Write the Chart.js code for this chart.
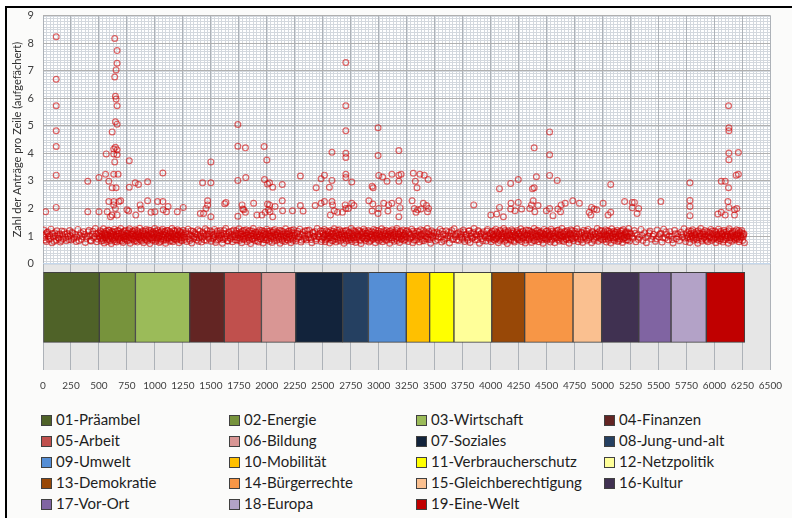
<!DOCTYPE html>
<html>
<head>
<meta charset="utf-8">
<script src="https://cdn.jsdelivr.net/npm/chart.js@4"></script>
<style>
  html, body { margin: 0; padding: 0; background: #ffffff; }
  body { width: 792px; height: 518px; position: relative; overflow: hidden; font-family: Lato, "Open Sans", sans-serif; }
  #rahmen { position: absolute; left: 5px; top: 6px; width: 800px; height: 520px; border: 2px solid #000; background: #fbfbfa; }
  #grafico { position: absolute; left: 0; top: 0; }
  #legende { position: absolute; left: 0; top: 409px; width: 792px; }
  .item { position: absolute; font-size: 15px; color: #1e1e1e; white-space: nowrap; line-height: 21px; }
  .item i { display: inline-block; width: 9px; height: 9px; border: 1px solid #404040; margin-right: 4px; vertical-align: -1px; }
</style>
</head>
<body>
<div id="rahmen"></div>
<canvas id="grafico" width="792" height="402"></canvas>
<div id="legende"></div>
<script>
// Kapitel (Kategorien) und ihre Zeilenbereiche
const KAPITEL = ['01-Präambel', '02-Energie', '03-Wirtschaft', '04-Finanzen', '05-Arbeit', '06-Bildung',
    '07-Soziales', '08-Jung-und-alt', '09-Umwelt', '10-Mobilität', '11-Verbraucherschutz', '12-Netzpolitik',
    '13-Demokratie', '14-Bürgerrechte', '15-Gleichberechtigung', '16-Kultur', '17-Vor-Ort', '18-Europa', '19-Eine-Welt'];
const KAPITEL_START = [0, 503, 826, 1311, 1620, 1952, 2258, 2678, 2908, 3246, 3455, 3672, 4010, 4304, 4736, 4992, 5324, 5612, 5927];
const KAPITEL_ENDE = [503, 826, 1311, 1620, 1952, 2258, 2678, 2908, 3246, 3455, 3672, 4010, 4304, 4736, 4992, 5324, 5612, 5927, 6271];

const FARBEN = ['#4f6228', '#77933c', '#9bbb59', '#632523', '#c0504d', '#d99694', '#12233b', '#254061', '#558ed5',
    '#ffc000', '#ffff00', '#ffff99', '#984807', '#f79646', '#fac090', '#403151', '#8064a2', '#b3a2c7', '#c00000'];

// Zeilen mit mehr als einem Antrag (Zeile, Anzahl)
const AUSREISSER = [
    [24,1.88],[118,8.23],[118,6.69],[118,5.73],[118,4.82],[118,4.25],[118,3.21],[118,2.04],[400,2.99],[400,1.88],
    [500,3.12],[500,1.88],[565,3.98],[559,3.24],[588,2.99],[618,4.78],[632,3.98],[641,8.17],[662,7.73],[662,7.27],
    [653,7.03],[641,6.77],[647,6.07],[653,5.97],[662,5.73],[647,5.15],[662,5.06],[632,4.16],[647,4.22],[662,4.13],
    [662,3.95],[641,3.69],[632,3.24],[671,3.24],[618,2.75],[653,2.75],[588,2.25],[632,2.25],[679,2.25],[694,2.28],
    [574,1.88],[618,1.76],[647,2.0],[632,2.13],[662,1.76],[603,1.7],[771,3.73],[771,2.77],[750,1.95],[765,1.91],
    [824,2.93],[853,2.87],[868,2.13],[876,1.98],[829,1.76],[935,2.97],[935,2.28],[965,1.86],[1000,1.88],[1024,2.25],
    [1071,3.29],[1071,2.25],[1074,1.95],[1103,1.88],[1118,2.07],[1200,1.88],[1253,2.04],[1426,2.93],[1406,1.82],[1435,1.82],
    [1456,2.0],[1471,2.28],[1471,2.13],[1500,3.69],[1500,2.93],[1500,1.7],[1624,2.17],[1635,2.22],[1741,5.05],[1741,4.26],
    [1741,3.02],[1741,1.72],[1809,4.2],[1812,3.12],[1785,1.98],[1794,1.95],[1809,1.86],[1779,2.13],[1882,2.19],[1912,1.76],
    [1956,1.76],[1976,4.25],[2000,3.76],[1979,3.05],[2006,2.89],[2024,2.93],[2053,2.77],[2006,2.16],[2024,2.13],[1985,1.86],
    [2015,1.95],[2029,1.88],[2053,1.7],[2074,2.07],[2138,2.87],[2138,2.28],[2141,1.92],[2229,1.92],[2300,3.18],[2300,2.11],
    [2324,1.91],[2441,2.75],[2432,2.11],[2485,3.08],[2515,3.21],[2485,2.19],[2515,2.25],[2559,2.77],[2582,4.04],[2582,3.02],
    [2582,2.25],[2588,2.13],[2568,1.76],[2603,1.92],[2632,1.86],[2676,1.86],[2706,7.3],[2706,5.73],[2706,4.82],[2706,4.0],
    [2706,3.85],[2706,3.24],[2706,3.12],[2700,2.13],[2706,2.0],[2729,2.0],[2759,2.96],[2759,2.19],[2779,2.11],[2912,2.28],
    [2941,2.81],[2950,2.75],[2947,2.16],[2941,1.91],[2994,4.93],[2994,3.92],[3000,3.2],[3000,2.0],[2994,1.82],[3035,3.14],
    [3044,2.19],[3074,2.99],[3088,2.13],[3118,3.24],[3118,2.19],[3082,1.91],[3180,4.1],[3180,3.21],[3200,3.24],[3180,2.99],
    [3180,2.28],[3191,2.03],[3180,1.7],[3309,3.28],[3327,2.99],[3342,2.75],[3368,3.24],[3407,3.21],[3442,3.05],[3298,2.28],
    [3318,2.0],[3348,1.95],[3333,1.86],[3398,2.19],[3427,2.11],[3436,1.88],[3445,2.0],[3377,1.98],[3849,2.13],[4002,1.76],
    [4055,1.8],[4079,2.72],[4079,2.04],[4114,1.7],[4179,2.91],[4182,2.19],[4179,1.98],[4218,1.92],[4247,3.05],[4247,2.22],
    [4277,1.98],[4350,2.0],[4365,2.13],[4380,2.28],[4389,4.2],[4409,3.15],[4389,2.75],[4374,2.72],[4395,1.88],[4424,2.11],
    [4527,4.78],[4527,3.95],[4527,3.2],[4595,3.02],[4527,2.0],[4557,1.74],[4498,1.92],[4601,1.98],[4625,1.88],[4630,2.13],
    [4666,2.19],[4734,2.28],[4793,2.19],[4881,1.86],[4902,2.04],[4925,1.98],[4949,1.95],[4896,1.76],[5005,2.19],[5049,1.76],
    [5073,2.87],[5073,1.86],[5197,2.25],[5265,2.22],[5285,2.22],[5265,2.03],[5323,2.0],[5309,1.82],[5521,2.25],[5781,2.93],
    [5781,2.29],[5781,2.07],[5781,1.74],[6126,5.73],[6129,4.93],[6129,4.82],[6129,4.01],[6129,3.77],[6214,4.03],[6061,2.99],
    [6096,2.99],[6126,2.75],[6194,3.21],[6214,3.24],[6120,2.25],[6129,2.04],[6179,1.95],[6200,2.0],[6031,1.8],[6061,1.86],
    [6096,1.76],[6179,1.76]
];

// Zeilen mit genau einem Antrag (aufgefaechert um 1), erster Teil
const EINZELNE = [
    [8,1.22],[15,0.95],[22,1.08],[30,0.8],[41,1.15],[52,0.88],[60,1.02],[71,1.25],[80,0.76],[92,0.97],[104,1.12],[118,0.85],
    [130,1.05],[142,0.92],[155,0.78],[168,1.18],[180,0.9],[196,1.07],[210,0.83],[224,0.98],[238,1.2],
    [252,0.86],[266,1.1],[280,0.95],[297,0.8],[312,1.24],[330,1.03],[344,0.88],[362,1.16],[378,0.77],[395,0.99],[410,1.21],
    [424,0.84],[438,1.06],[452,0.93],[468,1.27],[480,0.79],[494,1.12],
    [505,0.97],[512,1.19],[519,0.82],[526,1.05],[533,0.9],[540,1.26],[547,0.75],[554,1.1],[561,0.94],[568,1.02],[575,0.8],
    [582,1.22],[589,0.88],[596,1.13],[603,0.99],[610,0.73],[617,1.17],[624,1.06],[631,0.86],[638,1.25],[645,0.93],[652,1.01],
    [659,0.78],[666,1.2],[673,0.91],[680,1.09],[687,0.84],[694,1.27],[701,0.96],[708,1.14],[715,0.77],[722,1.03],[729,0.89],
    [736,1.21],[743,0.98],
    [752,0.83],[759,1.11],[766,0.95],[773,1.26],[780,0.74],[787,1.07],[794,0.9],[801,1.18],[808,1.0],[815,0.81],[822,1.23],
    [829,0.92],[836,1.05],[843,0.78],[850,1.15],[857,0.97],[864,1.28],[871,0.86],[878,1.04],[885,0.93],[892,1.19],[899,0.76],
    [906,1.1],[913,0.88],[920,1.24],[927,1.01],[934,0.82],[941,1.13],[948,0.95],[955,0.73],[962,1.2],[969,1.06],[976,0.87],
    [983,1.16],[990,0.94],
    [998,1.27],[1005,0.8],[1012,1.08],[1019,0.91],[1026,1.22],[1033,0.99],[1040,0.77],[1047,1.14],[1054,0.89],[1061,1.03],
    [1068,1.25],[1075,0.84],[1082,0.96],[1089,1.17],[1096,0.74],[1103,1.09],[1110,0.92],[1117,1.2],[1124,1.0],[1131,0.81],
    [1138,1.12],[1145,0.94],[1152,1.27],[1159,0.79],[1166,1.06],[1173,0.9],[1180,1.18],[1187,0.98],[1194,0.85],[1201,1.23],
    [1208,1.04],[1215,0.76],[1222,1.15],[1229,0.93],[1236,1.08],[1243,0.83],
    [1252,1.21],[1263,0.95],[1274,1.1],[1285,0.8],[1296,1.25],[1307,0.9],[1318,1.03],[1329,0.75],[1340,1.17],[1351,0.97],
    [1362,1.08],[1373,0.86],[1384,1.23],[1395,0.93],[1406,1.05],[1417,0.78],[1428,1.14],[1439,0.99],[1450,1.26],[1461,0.84],
    [1472,1.07],[1483,0.91],[1494,1.19],
    [1503,0.81],[1513,1.02],[1523,0.94],[1533,1.24],[1543,0.77],[1553,1.12],[1563,0.88],[1573,1.05],[1583,1.2],[1593,0.96],
    [1603,0.74],[1613,1.09],[1623,0.9],[1633,1.27],[1643,1.0],[1653,0.82],[1663,1.16],[1673,0.93],[1683,1.06],[1693,0.79],
    [1703,1.22],[1713,0.97],[1723,1.11],[1733,0.85],[1743,1.03],
    [1751,1.26],[1759,0.92],[1767,1.08],[1775,0.76],[1783,1.18],[1791,0.99],[1799,0.87],[1807,1.13],[1815,1.23],[1823,0.8],
    [1831,1.04],[1839,0.94],[1847,1.2],[1855,0.73],[1863,1.1],[1871,0.9],[1879,1.27],[1887,1.01],[1895,0.83],[1903,1.15],
    [1911,0.96],[1919,1.07],[1927,0.78],[1935,1.22],[1943,0.89],[1951,1.12],[1959,0.98],[1967,0.75],[1975,1.17],[1983,1.05],
    [1991,0.86],
    [1999,1.25],[2007,0.93],[2015,1.09],[2023,0.81],[2031,1.19],[2039,1.0],[2047,0.77],[2055,1.14],[2063,0.91],[2071,1.24],
    [2079,1.03],[2087,0.84],[2095,1.11],[2103,0.96],[2111,1.21],[2119,0.74],[2127,1.06],[2135,0.88],[2143,1.16],[2151,0.99],
    [2159,0.8],[2167,1.26],[2175,0.94],[2183,1.08],[2191,0.85],[2199,1.18],[2207,1.02],[2215,0.76],[2223,1.13],[2231,0.92],
    [2239,1.23],[2247,0.97],
    [2258,0.82],[2270,1.1],[2282,0.95],[2294,1.25],[2306,0.78],[2318,1.04],[2330,0.9],[2342,1.19],[2354,0.86],[2366,1.07],
    [2378,1.22],[2390,0.93],[2402,0.76],[2414,1.14],[2426,1.0],[2438,0.83],[2450,1.27],[2462,0.97],[2474,1.09],[2486,0.8],
    [2498,1.17],
    [2506,0.94],[2514,1.24],[2522,0.79],[2530,1.06],[2538,0.9],[2546,1.15],[2554,1.01],[2562,0.75],[2570,1.2],[2578,0.95],
    [2586,1.1],[2594,0.84],[2602,1.26],[2610,0.98],[2618,0.78],[2626,1.13],[2634,0.91],[2642,1.04],[2650,1.23],[2658,0.82],
    [2666,1.08],[2674,0.96],[2682,1.18],[2690,0.74],[2698,1.03],[2706,0.89],[2714,1.21],[2722,1.0],[2730,0.85],[2738,1.12],
    [2746,0.93],
    [2754,1.27],[2762,0.8],[2770,1.05],[2778,0.92],[2786,1.17],[2794,0.77],[2802,1.09],[2810,0.98],[2818,1.22],[2826,0.86],
    [2834,1.02],[2842,0.73],[2850,1.14],[2858,0.94],[2866,1.25],[2874,1.0],[2882,0.83],[2890,1.11],[2898,0.9],[2906,1.2],
    [2914,0.78],[2922,1.06],[2930,0.95],[2938,1.16],[2946,0.87],[2954,1.24],[2962,1.01],[2970,0.76],[2978,1.1],[2986,0.93],
    [2994,1.19],
    [3002,0.82],[3010,1.04],[3018,0.97],[3026,1.26],[3034,0.79],[3042,1.13],[3050,0.91],[3058,1.07],[3066,1.21],[3074,0.85],
    [3082,0.99],[3090,1.16],[3098,0.74],[3106,1.09],[3114,0.94],[3122,1.23],[3130,1.02],[3138,0.81],[3146,1.14],[3154,0.9],
    [3162,1.27],[3170,0.96],[3178,1.06],[3186,0.77],[3194,1.18],[3202,0.88],[3210,1.03],[3218,1.22],[3226,0.84],[3234,1.1],
    [3242,0.97],
    [3254,1.2],[3264,0.8],[3274,1.07],[3284,0.93],[3294,1.25],[3304,0.76],[3314,1.12],[3324,0.99],[3334,0.86],[3344,1.17],
    [3354,1.03],[3364,0.78],[3374,1.23],[3384,0.91],[3394,1.08],[3404,0.83],[3414,1.15],[3424,0.97],[3434,1.27],[3444,0.88],
    [3454,1.05],[3464,0.74],[3474,1.19],[3484,0.95],[3494,1.1],
    [3506,0.82],[3520,1.14],[3534,0.96],[3548,1.24],[3562,0.78],[3576,1.06],[3590,0.9],[3604,1.19],[3618,1.01],[3632,0.75],
    [3646,1.12],[3660,0.87],[3674,1.26],[3688,0.98],[3702,1.08],[3716,0.84],[3730,1.16],[3744,0.93],
    [3756,1.22],[3768,0.8],[3780,1.04],[3792,0.92],[3804,1.18],[3816,0.77],[3828,1.1],[3840,0.95],[3852,1.27],[3864,0.86],
    [3876,1.02],[3888,1.2],[3900,0.74],[3912,1.07],[3924,0.9],[3936,1.15],[3948,0.99],[3960,0.82],[3972,1.24],[3984,0.94],
    [3996,1.09],
    [4005,0.79],[4013,1.17],[4021,0.97],[4029,1.06],[4037,0.85],[4045,1.25],[4053,0.92],[4061,1.11],[4069,0.76],[4077,1.02],
    [4085,1.21],[4093,0.88],[4101,1.08],[4109,0.95],[4117,1.27],[4125,0.81],[4133,1.14],[4141,1.0],[4149,0.73],[4157,1.19],
    [4165,0.9],[4173,1.05],[4181,0.84],[4189,1.23],[4197,0.96],[4205,1.12],[4213,0.78],[4221,1.03],[4229,0.93],[4237,1.2],
    [4245,0.87],
    [4253,1.09],[4261,0.98],[4269,1.26],[4277,0.8],[4285,1.15],[4293,0.91],[4301,1.04],[4309,0.75],[4317,1.22],[4325,0.95],
    [4333,1.1],[4341,0.86],[4349,1.18],[4357,1.01],[4365,0.77],[4373,1.13],[4381,0.92],[4389,1.27],[4397,0.83],[4405,1.06],
    [4413,0.97],[4421,1.21],[4429,0.79],[4437,1.11],[4445,0.9],[4453,1.16],[4461,1.0],[4469,0.74],[4477,1.24],[4485,0.94],
    [4493,1.07],
    [4501,0.85],[4509,1.19],[4517,0.96],[4525,1.03],[4533,0.78],[4541,1.25],[4549,0.89],[4557,1.12],[4565,0.99],[4573,0.76],
    [4581,1.16],[4589,0.93],[4597,1.07],[4605,1.22],[4613,0.82],[4621,1.01],[4629,0.91],[4637,1.27],[4645,0.97],[4653,0.8],
    [4661,1.14],[4669,1.05],[4677,0.87],[4685,1.2],[4693,0.94],[4701,0.74],[4709,1.09],[4717,1.23],[4725,0.9],[4733,1.04],
    [4741,0.83],
    [4752,1.17],[4762,0.95],[4772,1.26],[4782,0.79],[4792,1.06],[4802,0.9],[4812,1.13],[4822,0.77],[4832,1.21],[4842,0.98],
    [4852,1.08],[4862,0.84],[4872,1.24],[4882,0.93],[4892,1.02],[4902,0.76],[4912,1.15],[4922,0.89],[4932,1.1],[4942,0.97],
    [4952,1.27],[4962,0.81],[4972,1.05],[4982,0.92],[4992,1.19],
    [5002,0.86],[5010,1.11],[5018,0.98],[5026,1.23],[5034,0.78],[5042,1.04],[5050,0.91],[5058,1.17],[5066,1.0],[5074,0.75],
    [5082,1.26],[5090,0.94],[5098,1.08],[5106,0.83],[5114,1.14],[5122,0.96],[5130,1.21],[5138,0.8],[5146,1.06],[5154,0.9],
    [5162,1.18],[5170,1.02],[5178,0.77],[5186,1.24],[5194,0.93],[5202,1.1],[5210,0.85],[5218,1.15],[5226,0.99],[5234,1.27],
    [5242,0.82],
    [5256,1.07],[5270,0.92],[5284,1.2],[5298,0.79],[5312,1.04],[5328,0.95],[5344,1.24],[5360,0.84],[5376,1.12],[5392,0.76],
    [5408,1.0],[5424,1.18],[5440,0.89],[5456,1.06],[5472,0.81],[5488,1.22],
    [5504,0.97],[5518,1.1],[5532,0.78],[5546,1.25],[5560,0.92],[5574,1.05],[5588,0.86],[5602,1.16],[5616,0.99],[5630,0.75],
    [5644,1.21],[5658,0.9],[5672,1.08],[5686,0.83],[5700,1.14],[5714,0.96],[5728,1.26],[5742,0.8],
    [5752,1.03],[5761,0.93],[5770,1.19],[5779,0.77],[5788,1.09],[5797,0.98],[5806,1.23],[5815,0.85],[5824,1.05],[5833,0.91],
    [5842,1.16],[5851,0.74],[5860,1.11],[5869,1.0],[5878,1.27],[5887,0.82],[5896,1.07],[5905,0.94],[5914,1.2],[5923,0.88],
    [5932,1.02],[5941,0.79],[5950,1.14],[5959,0.96],[5968,1.24],[5977,0.84],[5986,1.08],[5995,0.92],
    [6004,1.18],[6012,0.76],[6020,1.04],[6028,0.97],[6036,1.25],[6044,0.83],[6052,1.12],[6060,0.9],[6068,1.06],[6076,0.78],
    [6084,1.21],[6092,0.99],[6100,0.87],[6108,1.15],[6116,1.01],[6124,0.74],[6132,1.26],[6140,0.94],[6148,1.09],[6156,0.81],
    [6164,1.17],[6172,0.96],[6180,1.03],[6188,0.86],[6196,1.23],[6204,0.91],[6212,1.1],[6220,0.79],[6228,1.14],[6236,0.98],
    [6244,1.2],[6252,0.84],[6260,1.05],[6268,0.76]
];

// zweiter Teil der Einzelzeilen
const EINZELNE_B = [
    [4,1.02],[19,0.86],[35,1.13],[47,0.99],[66,0.9],[86,1.1],[98,0.81],[111,1.0],[124,1.19],[137,0.93],[149,1.07],[162,0.84],
    [174,1.04],[188,1.16],[203,0.95],[217,1.09],[231,0.87],[245,1.01],
    [259,1.14],[273,0.9],[289,1.05],[305,0.96],[321,0.83],[338,1.12],[353,0.98],[370,1.06],[386,0.91],[403,1.15],[417,1.0],
    [431,0.82],[445,1.17],[460,0.98],[474,1.08],[487,0.89],[499,1.02],
    [508,1.08],[516,0.93],[523,1.15],[530,1.0],[537,0.84],[544,1.12],[551,0.96],[558,1.04],[565,1.18],[572,0.87],[579,1.06],
    [586,0.95],[593,1.21],[600,0.83],[607,1.1],[614,0.98],[621,0.91],[628,1.14],[635,1.03],[642,0.8],[649,1.16],[656,0.97],
    [663,1.07],[670,0.86],[677,1.19],[684,1.0],[691,0.92],[698,1.11],[705,0.82],[712,1.05],[719,0.95],[726,1.17],[733,1.01],
    [740,0.88],[748,1.1],
    [755,0.97],[762,1.2],[770,0.85],[777,1.03],[784,0.94],[791,1.13],[798,1.06],[805,0.87],[812,1.16],[819,0.99],[826,1.09],
    [833,0.83],[840,1.2],[847,0.96],[854,1.05],[861,0.9],[868,1.12],[875,1.0],[882,0.82],[889,1.15],[896,0.98],[903,1.06],
    [910,0.93],[917,1.18],[924,0.86],[931,1.04],[938,0.97],[945,1.22],[952,0.9],[959,1.08],[966,0.94],[973,1.13],[980,0.84],
    [987,1.02],[994,1.1],
    [1002,0.95],[1009,1.17],[1016,0.85],[1023,1.04],[1030,0.93],[1037,1.12],[1044,1.0],[1051,0.81],[1058,1.19],[1065,0.97],
    [1072,1.07],[1079,0.89],[1086,1.14],[1093,1.02],[1100,0.86],[1107,1.21],[1114,0.96],[1121,1.06],[1128,0.91],[1135,1.16],
    [1142,0.99],[1149,0.84],[1156,1.1],[1163,0.95],[1170,1.2],[1177,1.03],[1184,0.88],[1191,1.12],[1198,0.97],[1205,1.05],
    [1212,0.9],[1219,1.18],[1226,1.0],[1233,0.85],[1240,1.13],[1247,0.96],
    [1257,1.04],[1268,0.88],[1279,1.16],[1290,0.97],[1301,1.08],[1312,0.84],[1323,1.19],[1334,1.01],[1345,0.9],[1356,1.13],
    [1367,0.95],[1378,1.06],[1389,0.81],[1400,1.17],[1411,0.99],[1422,0.92],[1433,1.1],[1444,0.86],[1455,1.03],[1466,1.2],
    [1477,0.96],[1488,1.07],
    [1508,1.15],[1518,0.9],[1528,1.06],[1538,0.98],[1548,0.85],[1558,1.18],[1568,1.0],[1578,0.92],[1588,1.11],[1598,1.03],
    [1608,0.87],[1618,1.2],[1628,0.95],[1638,1.08],[1648,0.83],[1658,1.13],[1668,1.02],[1678,0.9],[1688,1.17],[1698,0.97],
    [1708,1.05],[1718,0.86],[1728,1.19],[1738,0.94],[1747,1.09],
    [1755,0.84],[1763,1.14],[1771,0.98],[1779,1.06],[1787,0.89],[1795,1.21],[1803,1.0],[1811,0.92],[1819,1.1],[1827,0.96],
    [1835,1.16],[1843,0.85],[1851,1.04],[1859,0.99],[1867,1.18],[1875,0.88],[1883,1.07],[1891,0.94],[1899,1.13],[1907,1.02],
    [1915,0.82],[1923,1.15],[1931,0.97],[1939,1.05],[1947,0.9],[1955,1.2],[1963,1.01],[1971,0.87],[1979,1.11],[1987,0.95],
    [1995,1.07],
    [2003,0.86],[2011,1.17],[2019,0.99],[2027,1.04],[2035,0.91],[2043,1.13],[2051,0.97],[2059,1.2],[2067,0.84],[2075,1.06],
    [2083,0.95],[2091,1.15],[2099,1.0],[2107,0.88],[2115,1.1],[2123,0.98],[2131,1.19],[2139,0.83],[2147,1.05],[2155,0.93],
    [2163,1.12],[2171,1.01],[2179,0.87],[2187,1.16],[2195,0.96],[2203,1.08],[2211,0.9],[2219,1.21],[2227,1.0],[2235,0.85],
    [2243,1.11],
    [2252,1.03],[2264,0.9],[2276,1.17],[2288,0.97],[2300,1.07],[2312,0.85],[2324,1.14],[2336,1.0],[2348,0.92],[2360,1.2],
    [2372,0.95],[2384,1.05],[2396,0.87],[2408,1.12],[2420,0.98],[2432,1.16],[2444,0.9],[2456,1.04],[2468,0.96],[2480,1.19],
    [2492,0.88],
    [2502,1.1],[2510,0.97],[2518,1.04],[2526,0.86],[2534,1.19],[2542,1.0],[2550,0.92],[2558,1.13],[2566,0.95],[2574,1.07],
    [2582,0.83],[2590,1.17],[2598,1.01],[2606,0.9],[2614,1.12],[2622,0.98],[2630,1.21],[2638,0.85],[2646,1.06],[2654,0.94],
    [2662,1.15],[2670,1.03],[2678,0.88],[2686,1.1],[2694,0.96],[2702,1.18],[2710,0.82],[2718,1.05],[2726,0.93],[2734,1.14],
    [2742,1.0],[2750,0.87],
    [2758,1.11],[2766,0.95],[2774,1.2],[2782,1.02],[2790,0.86],[2798,1.14],[2806,0.93],[2814,1.06],[2822,0.99],[2830,1.17],
    [2838,0.84],[2846,1.08],[2854,0.96],[2862,1.12],[2870,0.89],[2878,1.19],[2886,1.01],[2894,0.92],[2902,1.1],[2910,0.97],
    [2918,1.15],[2926,0.83],[2934,1.05],[2942,1.0],[2950,0.9],[2958,1.13],[2966,0.95],[2974,1.21],[2982,1.04],[2990,0.87],
    [2998,1.09],
    [3006,0.96],[3014,1.16],[3022,0.88],[3030,1.03],[3038,0.94],[3046,1.19],[3054,1.0],[3062,0.85],[3070,1.11],[3078,0.97],
    [3086,1.06],[3094,0.91],[3102,1.18],[3110,1.02],[3118,0.86],[3126,1.13],[3134,0.95],[3142,1.07],[3150,0.99],[3158,1.2],
    [3166,0.84],[3174,1.09],[3182,0.93],[3190,1.15],[3198,1.01],[3206,0.89],[3214,1.12],[3222,0.96],[3230,1.05],[3238,0.87],
    [3246,1.17],
    [3259,0.95],[3269,1.13],[3279,0.89],[3289,1.05],[3299,0.97],[3309,1.18],[3319,0.85],[3329,1.09],[3339,1.0],[3349,0.92],
    [3359,1.15],[3369,0.98],[3379,1.06],[3389,0.84],[3399,1.2],[3409,1.01],[3419,0.9],[3429,1.11],[3439,0.96],[3449,1.16],
    [3459,0.87],[3469,1.04],[3479,0.99],[3489,1.13],
    [3513,1.0],[3527,0.87],[3541,1.1],[3555,0.96],[3569,1.17],[3583,0.84],[3597,1.05],[3611,0.93],[3625,1.14],[3639,0.99],
    [3653,1.2],[3667,0.9],[3681,1.04],[3695,0.86],[3709,1.12],[3723,0.97],[3737,1.06],[3750,0.88],[3762,1.15],[3774,0.96],
    [3786,1.08],[3798,0.85],[3810,1.19],[3822,1.0],[3834,0.91],[3846,1.13],[3858,0.97],[3870,1.06],[3882,0.87],[3894,1.16],
    [3906,0.98],[3918,1.1],[3930,0.83],[3942,1.04],[3954,0.95],[3966,1.18],[3978,1.01],[3990,0.89],
    [4001,1.12],[4009,0.94],[4017,1.04],[4025,0.88],[4033,1.19],[4041,1.0],[4049,0.91],[4057,1.14],[4065,0.97],[4073,1.07],
    [4081,0.84],[4089,1.16],[4097,1.01],[4105,0.9],[4113,1.1],[4121,0.96],[4129,1.2],[4137,0.86],[4145,1.05],[4153,0.94],
    [4161,1.13],[4169,1.02],[4177,0.87],[4185,1.11],[4193,0.97],[4201,1.17],[4209,0.83],[4217,1.06],[4225,0.99],[4233,1.14],
    [4241,0.91],[4249,1.08],
    [4257,0.86],[4265,1.13],[4273,1.01],[4281,0.93],[4289,1.18],[4297,0.97],[4305,1.09],[4313,0.85],[4321,1.05],[4329,1.0],
    [4337,1.21],[4345,0.9],[4353,1.07],[4361,0.95],[4369,1.15],[4377,1.03],[4385,0.84],[4393,1.11],[4401,0.98],[4409,1.19],
    [4417,0.88],[4425,1.04],[4433,0.96],[4441,1.14],[4449,1.01],[4457,0.86],[4465,1.1],[4473,0.94],[4481,1.06],[4489,0.89],
    [4497,1.17],
    [4505,1.02],[4513,0.9],[4521,1.12],[4529,0.97],[4537,1.06],[4545,0.85],[4553,1.18],[4561,1.0],[4569,0.92],[4577,1.1],
    [4585,0.96],[4593,1.2],[4601,0.87],[4609,1.04],[4617,0.95],[4625,1.14],[4633,1.02],[4641,0.84],[4649,1.09],[4657,0.98],
    [4665,1.17],[4673,0.9],[4681,1.05],[4689,1.0],[4697,1.13],[4705,0.86],[4713,1.07],[4721,0.96],[4729,1.19],[4737,0.92],
    [4745,1.1],
    [4757,0.98],[4767,1.08],[4777,0.9],[4787,1.15],[4797,1.0],[4807,0.86],[4817,1.12],[4827,0.95],[4837,1.05],[4847,0.92],
    [4857,1.18],[4867,1.01],[4877,0.87],[4887,1.1],[4897,0.97],[4907,1.16],[4917,1.03],[4927,0.84],[4937,1.07],[4947,0.94],
    [4957,1.13],[4967,0.99],[4977,1.2],[4987,0.88],[4997,1.05],
    [5006,0.97],[5014,1.16],[5022,0.9],[5030,1.06],[5038,0.99],[5046,1.19],[5054,0.85],[5062,1.1],[5070,0.95],[5078,1.13],
    [5086,1.02],[5094,0.87],[5102,1.17],[5110,0.96],[5118,1.07],[5126,0.91],[5134,1.14],[5142,1.0],[5150,0.84],[5158,1.11],
    [5166,0.97],[5174,1.2],[5182,0.89],[5190,1.05],[5198,0.95],[5206,1.15],[5214,1.01],[5222,0.86],[5230,1.09],[5238,0.96],
    [5246,1.12],
    [5263,0.98],[5291,1.1],[5320,0.88],[5352,1.03],[5384,0.95],[5416,1.12],[5448,0.99],[5480,0.9],[5511,1.06],[5539,0.94],
    [5567,1.15],[5595,1.0],[5623,0.87],[5651,1.08],[5679,0.97],[5707,1.04],[5735,0.92],
    [5756,1.13],[5765,0.98],[5774,1.06],[5783,0.9],[5792,1.17],[5801,1.0],[5810,0.93],[5819,1.12],[5828,0.97],[5837,1.05],
    [5846,0.86],[5855,1.19],[5864,0.95],[5873,1.08],[5882,1.01],[5891,0.89],[5900,1.14],[5909,0.97],[5918,1.06],[5927,0.84],
    [5936,1.16],[5945,1.0],[5954,0.92],[5963,1.1],[5972,0.96],[5981,1.18],[5990,0.88],[5999,1.04],
    [6008,0.95],[6016,1.13],[6024,0.88],[6032,1.06],[6040,1.0],[6048,0.91],[6056,1.17],[6064,0.97],[6072,1.09],[6080,0.86],
    [6088,1.14],[6096,1.02],[6104,0.93],[6112,1.07],[6120,0.98],[6128,1.19],[6136,0.85],[6144,1.05],[6152,0.96],[6160,1.12],
    [6168,1.0],[6176,0.89],[6184,1.16],[6192,0.94],[6200,1.06],[6208,0.99],[6216,1.2],[6224,0.87],[6232,1.04],[6240,0.95],
    [6248,1.11],[6256,0.98],[6264,1.08]
];

const X_MAX = 6500;
const Y_MAX = 9;

// Hilfsgitter + grauer Streifen unter der Punktwolke
const hintergrund = {
    id: 'hintergrund',
    beforeDraw: function(chart) {
        var ctx = chart.ctx;
        var a = chart.chartArea;
        var x = chart.scales.x;
        var y = chart.scales.y;
        ctx.save();
        ctx.fillStyle = '#ffffff';
        ctx.fillRect(a.left, y.top, a.right - a.left, y.bottom - y.top);
        ctx.fillStyle = '#e6e6e6';
        ctx.fillRect(a.left, y.bottom, a.right - a.left, a.bottom + 19 - y.bottom);
        ctx.strokeStyle = '#d3d8de';
        ctx.lineWidth = 1;
        ctx.beginPath();
        for (var v = 0; v <= X_MAX; v += 31.25) {
            var px = Math.round(x.getPixelForValue(v)) + 0.5;
            ctx.moveTo(px, y.top);
            ctx.lineTo(px, y.bottom);
        }
        for (var w = 0; w <= Y_MAX * 10; w++) {
            var py = Math.round(y.getPixelForValue(w / 10)) + 0.5;
            ctx.moveTo(a.left, py);
            ctx.lineTo(a.right, py);
        }
        ctx.stroke();
        ctx.restore();
    }
};

var punkte = AUSREISSER.concat(EINZELNE, EINZELNE_B).map(function(p) { return { x: p[0], y: p[1] }; });

var datasets = [{
    type: 'scatter',
    label: 'Anträge',
    data: punkte,
    xAxisID: 'x',
    yAxisID: 'y',
    pointRadius: 2.9,
    pointBorderWidth: 1.2,
    pointBorderColor: 'rgba(208,0,0,0.58)',
    pointBackgroundColor: 'rgba(255,255,255,0)'
}];

KAPITEL.forEach(function(name, i) {
    datasets.push({
        type: 'bar',
        label: name,
        indexAxis: 'y',
        xAxisID: 'x',
        yAxisID: 'y2',
        grouped: false,
        data: [{ y: 'kapitel', x: [KAPITEL_START[i], KAPITEL_ENDE[i]] }],
        backgroundColor: FARBEN[i],
        borderColor: '#404040',
        borderWidth: 1,
        borderSkipped: false,
        barThickness: 70
    });
});

new Chart(document.getElementById('grafico'), {
    type: 'scatter',
    data: { datasets: datasets },
    options: {
        responsive: false,
        animation: false,
        events: [],
        layout: { padding: { left: 0, right: 4, top: 15, bottom: 0 } },
        plugins: { legend: { display: false }, tooltip: { enabled: false } },
        scales: {
            x: {
                type: 'linear',
                position: 'bottom',
                min: 0,
                max: X_MAX,
                ticks: { stepSize: 250, autoSkip: false, maxRotation: 0, minRotation: 0, padding: 10,
                    color: '#404040', font: { family: 'Lato', size: 10 },
                    callback: function(v) { return String(v); } },
                grid: { color: '#adb2b8', tickLength: 19, tickColor: '#adb2b8' },
                border: { display: false }
            },
            y: {
                type: 'linear',
                position: 'left',
                stack: 'spalte',
                stackWeight: 244,
                weight: 2,
                min: 0,
                max: Y_MAX,
                ticks: { stepSize: 1, autoSkip: false, padding: 9, color: '#404040', font: { family: 'Lato', size: 11 } },
                grid: {
                    drawTicks: false,
                    color: function(c) { return c.tick && c.tick.value === 0 ? '#c4d7ec' : '#b0b0b0'; }
                },
                border: { display: false },
                title: { display: true, text: 'Zahl der Anträge pro Zeile (aufgefächert)', color: '#303030',
                    font: { family: 'Lato', size: 11 }, padding: { top: 11, bottom: 0 } },
                afterFit: function(s) { s.width = 43; }
            },
            y2: {
                type: 'category',
                position: 'left',
                labels: ['kapitel'],
                offset: true,
                stack: 'spalte',
                stackWeight: 86,
                weight: 1,
                ticks: { display: false },
                grid: { display: false },
                border: { display: false },
                afterFit: function(s) { s.width = 43; }
            }
        }
    },
    plugins: [hintergrund]
});

// Legende in vier Spalten
var legende = document.getElementById('legende');
var SPALTEN_X = [41, 229, 416, 604];
KAPITEL.forEach(function(name, i) {
    var el = document.createElement('div');
    el.className = 'item';
    el.style.left = SPALTEN_X[i % 4] + 'px';
    el.style.top = (Math.floor(i / 4) * 21) + 'px';
    var box = document.createElement('i');
    box.style.background = FARBEN[i];
    el.appendChild(box);
    el.appendChild(document.createTextNode(name));
    legende.appendChild(el);
});
</script>
</body>
</html>
